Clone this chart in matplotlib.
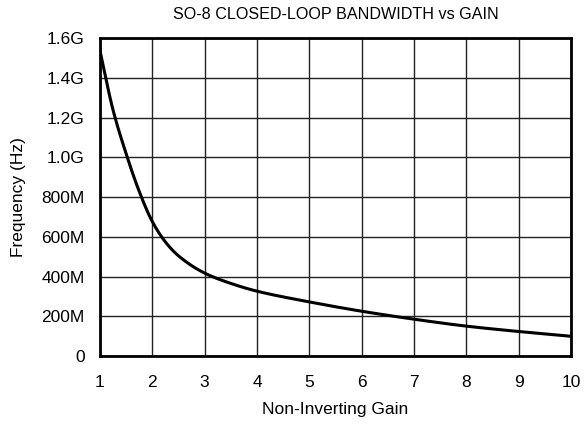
import numpy as np
import matplotlib.pyplot as plt

plt.rcParams['font.family'] = ['Liberation Sans', 'DejaVu Sans']

# curve (gain vs frequency in Hz)
gain = [1.0, 1.25, 1.5, 1.75, 2.0, 2.25, 2.5, 3.0, 3.5, 4.0, 5.0, 6.0, 7.0, 8.0, 9.0, 10.0]
freq = [1.54e9, 1.24e9, 1.02e9, 0.83e9, 0.678e9, 0.575e9, 0.505e9, 0.418e9, 0.366e9,
        0.327e9, 0.273e9, 0.226e9, 0.186e9, 0.151e9, 0.124e9, 0.100e9]

xticks = [1, 2, 3, 4, 5, 6, 7, 8, 9, 10]
yticks = [0, 0.2e9, 0.4e9, 0.6e9, 0.8e9, 1.0e9, 1.2e9, 1.4e9, 1.6e9]
ylabels = ['0', '200M', '400M', '600M', '800M', '1.0G', '1.2G', '1.4G', '1.6G']


def smooth(x, y, n=400):
    # monotone cubic through the read points
    x = np.asarray(x, float)
    y = np.asarray(y, float)
    h = np.diff(x)
    d = np.diff(y) / h
    m = np.zeros_like(y)
    m[0], m[-1] = d[0], d[-1]
    for i in range(1, len(x) - 1):
        if d[i - 1] * d[i] > 0:
            w1 = 2 * h[i] + h[i - 1]
            w2 = h[i] + 2 * h[i - 1]
            m[i] = (w1 + w2) / (w1 / d[i - 1] + w2 / d[i])
    xs = np.linspace(x[0], x[-1], n)
    k = np.clip(np.searchsorted(x, xs) - 1, 0, len(x) - 2)
    t = (xs - x[k]) / h[k]
    h00 = 2 * t**3 - 3 * t**2 + 1
    h10 = t**3 - 2 * t**2 + t
    h01 = -2 * t**3 + 3 * t**2
    h11 = t**3 - t**2
    ys = h00 * y[k] + h10 * h[k] * m[k] + h01 * y[k + 1] + h11 * h[k] * m[k + 1]
    return xs, ys


fig = plt.figure(figsize=(5.84, 4.24), dpi=100)
ax = fig.add_axes([0.171, 0.160, 0.807, 0.750])

xs, ys = smooth(gain, freq)
ax.plot(xs, ys, color='black', linewidth=2.2, zorder=3)

ax.set_xlim(1, 10)
ax.set_ylim(0, 1.6e9)
ax.set_xticks(xticks)
ax.set_xticklabels([str(v) for v in xticks])
ax.set_yticks(yticks)
ax.set_yticklabels(ylabels)
ax.grid(True, color='#222222', linewidth=1.0)
ax.tick_params(length=0, labelsize=12.5)
ax.tick_params(axis='y', pad=11)
ax.tick_params(axis='x', pad=13.5)
for s in ax.spines.values():
    s.set_linewidth(2)
    s.set_color('black')

ax.set_xlabel('Non-Inverting Gain', fontsize=12.5, labelpad=9)
ax.set_ylabel('Frequency (Hz)', fontsize=12.5, labelpad=11)
ax.set_title('SO-8 CLOSED-LOOP BANDWIDTH vs GAIN', fontsize=11.6, pad=13.5)

fig.savefig('out.png', dpi=100)
